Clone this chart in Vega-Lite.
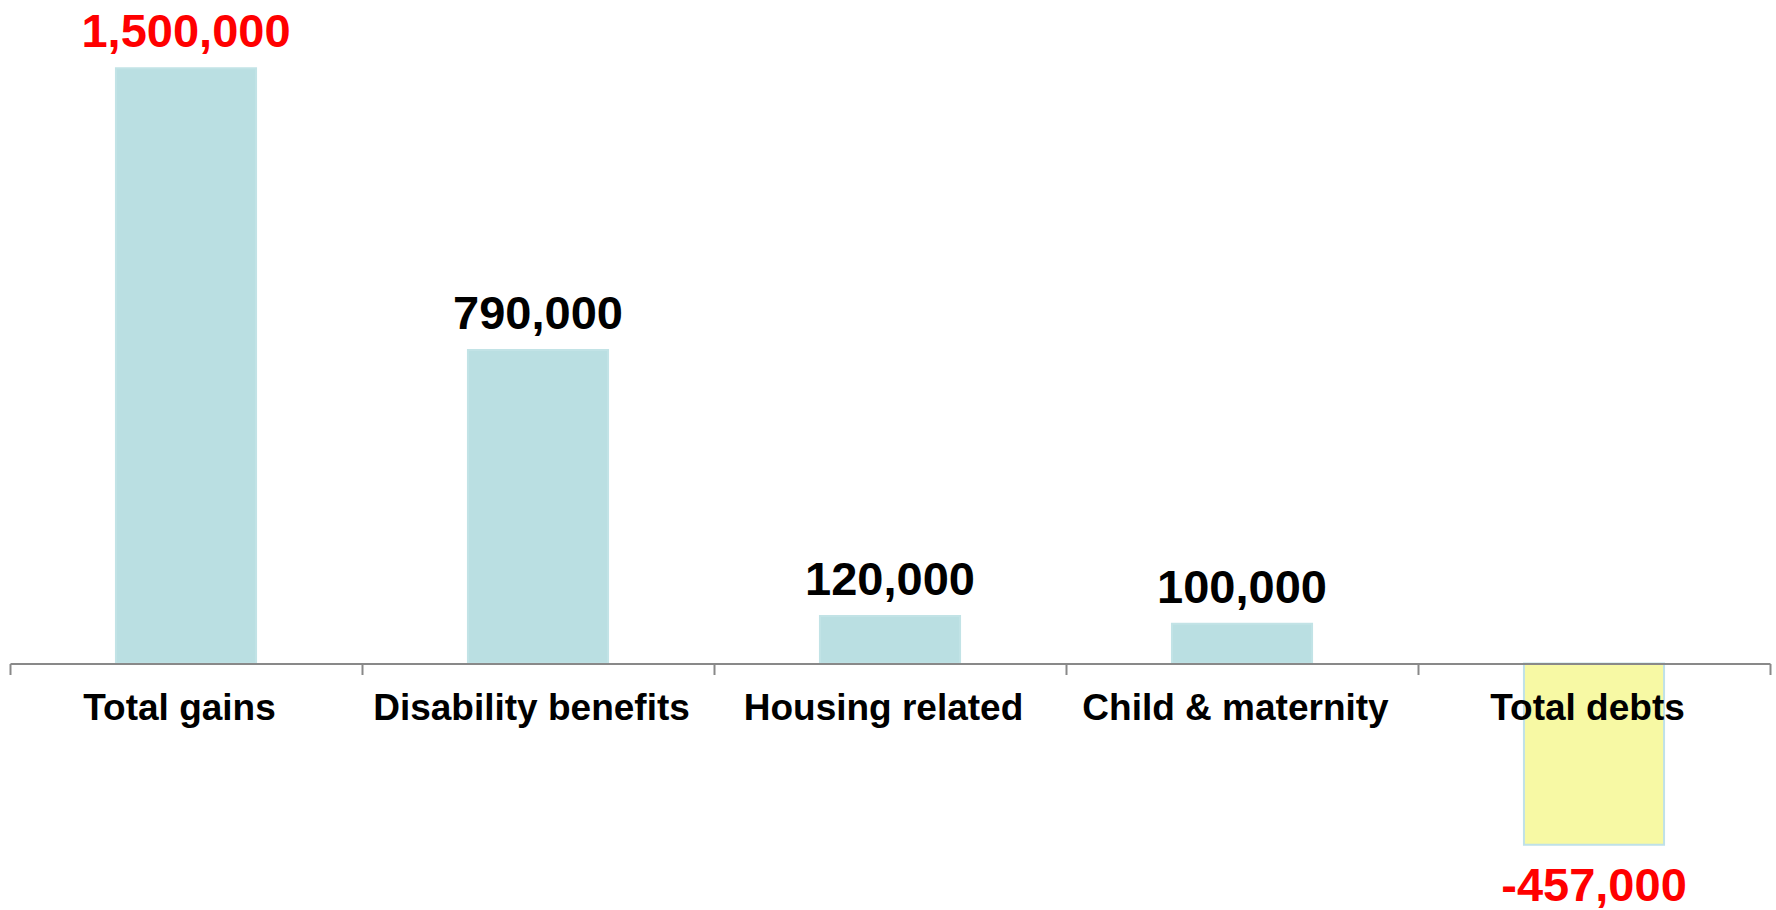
{
  "$schema": "https://vega.github.io/schema/vega-lite/v6.json",
  "width": 1760,
  "height": 910,
  "autosize": {"type": "none"},
  "padding": {"left": 10, "right": 6, "top": 0, "bottom": 0},
  "background": "white",
  "config": {
    "view": {"stroke": null},
    "font": "Liberation Sans",
    "locale": {"number": {"decimal": ".", "thousands": ",", "grouping": [3], "currency": ["$", ""], "minus": "-"}}
  },
  "data": {
    "values": [
      {"category": "Total gains", "value": 1500000},
      {"category": "Disability benefits", "value": 790000},
      {"category": "Housing related", "value": 120000},
      {"category": "Child & maternity", "value": 100000},
      {"category": "Total debts", "value": -457000}
    ]
  },
  "encoding": {
    "x": {
      "field": "category",
      "type": "nominal",
      "sort": null,
      "scale": {"paddingInner": 0, "paddingOuter": 0},
      "axis": {
        "title": null,
        "labelAngle": 0,
        "labelFontSize": 37,
        "labelFontWeight": "bold",
        "labelColor": "#000000",
        "labelFont": "Liberation Sans",
        "labelPadding": 16,
        "labelLimit": 0,
        "labelOffset": -7,
        "domainColor": "#898989",
        "domainWidth": 2,
        "tickColor": "#898989",
        "tickWidth": 2,
        "tickSize": 11,
        "tickBand": "extent",
        "grid": false,
        "offset": -246.5,
        "zindex": 1
      }
    },
    "y": {
      "field": "value",
      "type": "quantitative",
      "scale": {"domain": [-621230, 1672150], "nice": false, "zero": false},
      "axis": null
    }
  },
  "layer": [
    {
      "mark": {"type": "bar", "strokeWidth": 2, "width": {"band": 0.398}},
      "encoding": {
        "y2": {"datum": 0},
        "color": {
          "condition": {"test": "datum.value < 0", "value": "#F7F9A4"},
          "value": "#BADFE2"
        },
        "stroke": {
          "condition": {"test": "datum.value < 0", "value": "#BFE1E8"},
          "value": "#C2E3E6"
        }
      }
    },
    {
      "transform": [{"filter": "datum.value >= 0"}],
      "mark": {"type": "text", "baseline": "alphabetic", "dy": -21, "fontSize": 47, "fontWeight": "bold", "font": "Liberation Sans"},
      "encoding": {
        "text": {"field": "value", "type": "quantitative", "format": ","},
        "color": {
          "condition": {"test": "datum.category === 'Total gains'", "value": "#FF0000"},
          "value": "#000000"
        }
      }
    },
    {
      "transform": [{"filter": "datum.value < 0"}],
      "mark": {"type": "text", "baseline": "top", "dy": 19, "fontSize": 47, "fontWeight": "bold", "font": "Liberation Sans"},
      "encoding": {
        "text": {"field": "value", "type": "quantitative", "format": ","},
        "color": {"value": "#FF0000"}
      }
    }
  ]
}
